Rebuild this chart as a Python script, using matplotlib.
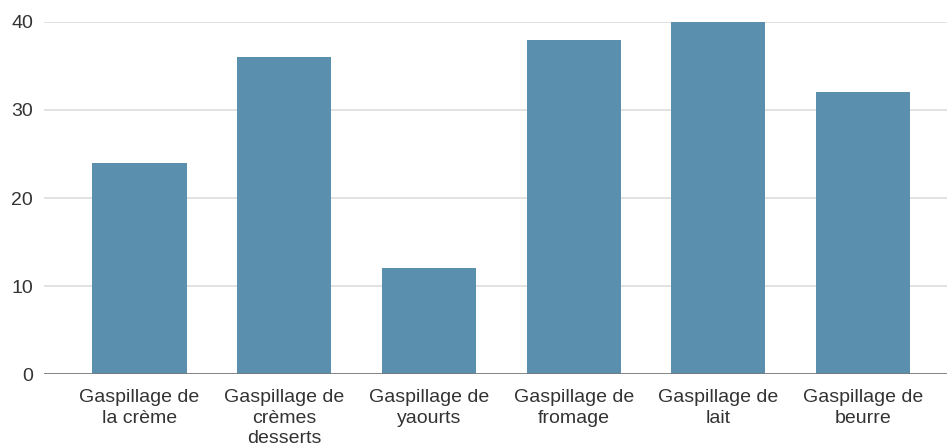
import matplotlib
matplotlib.use("Agg")
import matplotlib.pyplot as plt

categories = [
    "Gaspillage de\nla crème",
    "Gaspillage de\ncrèmes\ndesserts",
    "Gaspillage de\nyaourts",
    "Gaspillage de\nfromage",
    "Gaspillage de\nlait",
    "Gaspillage de\nbeurre",
]
values = [24, 36, 12, 38, 40, 32]
y_ticks = [0, 10, 20, 30, 40]

plt.rcParams["font.family"] = ["Liberation Sans", "DejaVu Sans"]

fig = plt.figure(figsize=(9.48, 4.46), dpi=100)
ax = fig.add_axes([0.0464, 0.1614, 0.9526, 0.7893])

x = range(len(categories))
ax.bar(x, values, width=0.65, color="#5a8fae", zorder=3)

ax.set_xlim(-0.66, 5.58)
ax.set_ylim(0, 40)
ax.set_yticks(y_ticks)
ax.set_xticks(list(x))
ax.set_xticklabels(categories, fontsize=14, color="#333333", linespacing=1.25)
ax.tick_params(axis="y", labelsize=14, labelcolor="#333333", length=0, pad=8)
ax.tick_params(axis="x", length=0, pad=11)

ax.grid(axis="y", color="#dddddd", linewidth=1.2, zorder=0)
ax.axhline(0, color="#777777", linewidth=1.2, zorder=4)
for s in ax.spines.values():
    s.set_visible(False)

fig.savefig("out.png", dpi=100)
